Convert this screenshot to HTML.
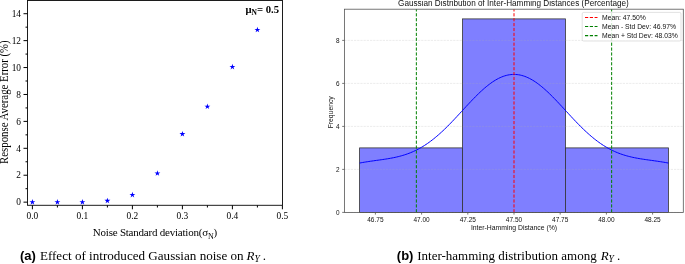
<!DOCTYPE html><html><head><meta charset="utf-8"><style>html,body{margin:0;padding:0;background:#fff;}svg{display:block;filter:blur(0.3px);}</style></head><body>
<svg width="685" height="264" viewBox="0 0 685 264">
<rect x="0" y="0" width="685" height="264" fill="#fff"/>
<polygon points="32.40,199.05 33.10,201.19 35.35,201.19 33.53,202.52 34.22,204.66 32.40,203.33 30.58,204.66 31.27,202.52 29.45,201.19 31.70,201.19" fill="#0000ff"/>
<polygon points="57.40,199.05 58.10,201.19 60.35,201.19 58.53,202.52 59.22,204.66 57.40,203.33 55.58,204.66 56.27,202.52 54.45,201.19 56.70,201.19" fill="#0000ff"/>
<polygon points="82.40,199.05 83.10,201.19 85.35,201.19 83.53,202.52 84.22,204.66 82.40,203.33 80.58,204.66 81.27,202.52 79.45,201.19 81.70,201.19" fill="#0000ff"/>
<polygon points="107.40,197.70 108.10,199.85 110.35,199.85 108.53,201.17 109.22,203.31 107.40,201.99 105.58,203.31 106.27,201.17 104.45,199.85 106.70,199.85" fill="#0000ff"/>
<polygon points="132.40,191.78 133.10,193.92 135.35,193.92 133.53,195.25 134.22,197.39 132.40,196.07 130.58,197.39 131.27,195.25 129.45,193.92 131.70,193.92" fill="#0000ff"/>
<polygon points="157.40,170.25 158.10,172.39 160.35,172.39 158.53,173.71 159.22,175.85 157.40,174.53 155.58,175.85 156.27,173.71 154.45,172.39 156.70,172.39" fill="#0000ff"/>
<polygon points="182.40,130.94 183.10,133.08 185.35,133.08 183.53,134.41 184.22,136.55 182.40,135.23 180.58,136.55 181.27,134.41 179.45,133.08 181.70,133.08" fill="#0000ff"/>
<polygon points="207.40,103.48 208.10,105.63 210.35,105.63 208.53,106.95 209.22,109.09 207.40,107.77 205.58,109.09 206.27,106.95 204.45,105.63 206.70,105.63" fill="#0000ff"/>
<polygon points="232.40,63.78 233.10,65.92 235.35,65.92 233.53,67.24 234.22,69.38 232.40,68.06 230.58,69.38 231.27,67.24 229.45,65.92 231.70,65.92" fill="#0000ff"/>
<polygon points="257.40,26.76 258.10,28.90 260.35,28.90 258.53,30.23 259.22,32.37 257.40,31.05 255.58,32.37 256.27,30.23 254.45,28.90 256.70,28.90" fill="#0000ff"/>
<rect x="27.5" y="0.5" width="255.0" height="204.8" fill="none" stroke="#111" stroke-width="0.95"/>
<line x1="23.5" y1="202.15" x2="27.5" y2="202.15" stroke="#000" stroke-width="1"/>
<text x="21" y="205.35" text-anchor="end" style="font-family:'Liberation Serif',serif;font-size:9.4px">0</text>
<line x1="25.5" y1="188.69" x2="27.5" y2="188.69" stroke="#000" stroke-width="1"/>
<line x1="23.5" y1="175.23" x2="27.5" y2="175.23" stroke="#000" stroke-width="1"/>
<text x="21" y="178.43" text-anchor="end" style="font-family:'Liberation Serif',serif;font-size:9.4px">2</text>
<line x1="25.5" y1="161.77" x2="27.5" y2="161.77" stroke="#000" stroke-width="1"/>
<line x1="23.5" y1="148.31" x2="27.5" y2="148.31" stroke="#000" stroke-width="1"/>
<text x="21" y="151.51" text-anchor="end" style="font-family:'Liberation Serif',serif;font-size:9.4px">4</text>
<line x1="25.5" y1="134.85" x2="27.5" y2="134.85" stroke="#000" stroke-width="1"/>
<line x1="23.5" y1="121.39" x2="27.5" y2="121.39" stroke="#000" stroke-width="1"/>
<text x="21" y="124.59" text-anchor="end" style="font-family:'Liberation Serif',serif;font-size:9.4px">6</text>
<line x1="25.5" y1="107.93" x2="27.5" y2="107.93" stroke="#000" stroke-width="1"/>
<line x1="23.5" y1="94.47" x2="27.5" y2="94.47" stroke="#000" stroke-width="1"/>
<text x="21" y="97.67" text-anchor="end" style="font-family:'Liberation Serif',serif;font-size:9.4px">8</text>
<line x1="25.5" y1="81.01" x2="27.5" y2="81.01" stroke="#000" stroke-width="1"/>
<line x1="23.5" y1="67.55" x2="27.5" y2="67.55" stroke="#000" stroke-width="1"/>
<text x="21" y="70.75" text-anchor="end" style="font-family:'Liberation Serif',serif;font-size:9.4px">10</text>
<line x1="25.5" y1="54.09" x2="27.5" y2="54.09" stroke="#000" stroke-width="1"/>
<line x1="23.5" y1="40.63" x2="27.5" y2="40.63" stroke="#000" stroke-width="1"/>
<text x="21" y="43.83" text-anchor="end" style="font-family:'Liberation Serif',serif;font-size:9.4px">12</text>
<line x1="25.5" y1="27.17" x2="27.5" y2="27.17" stroke="#000" stroke-width="1"/>
<line x1="23.5" y1="13.71" x2="27.5" y2="13.71" stroke="#000" stroke-width="1"/>
<text x="21" y="16.91" text-anchor="end" style="font-family:'Liberation Serif',serif;font-size:9.4px">14</text>
<line x1="32.40" y1="205.3" x2="32.40" y2="209.3" stroke="#000" stroke-width="1"/>
<text x="32.40" y="218.9" text-anchor="middle" style="font-family:'Liberation Serif',serif;font-size:9.4px">0.0</text>
<line x1="57.40" y1="205.3" x2="57.40" y2="207.5" stroke="#000" stroke-width="1"/>
<line x1="82.40" y1="205.3" x2="82.40" y2="209.3" stroke="#000" stroke-width="1"/>
<text x="82.40" y="218.9" text-anchor="middle" style="font-family:'Liberation Serif',serif;font-size:9.4px">0.1</text>
<line x1="107.40" y1="205.3" x2="107.40" y2="207.5" stroke="#000" stroke-width="1"/>
<line x1="132.40" y1="205.3" x2="132.40" y2="209.3" stroke="#000" stroke-width="1"/>
<text x="132.40" y="218.9" text-anchor="middle" style="font-family:'Liberation Serif',serif;font-size:9.4px">0.2</text>
<line x1="157.40" y1="205.3" x2="157.40" y2="207.5" stroke="#000" stroke-width="1"/>
<line x1="182.40" y1="205.3" x2="182.40" y2="209.3" stroke="#000" stroke-width="1"/>
<text x="182.40" y="218.9" text-anchor="middle" style="font-family:'Liberation Serif',serif;font-size:9.4px">0.3</text>
<line x1="207.40" y1="205.3" x2="207.40" y2="207.5" stroke="#000" stroke-width="1"/>
<line x1="232.40" y1="205.3" x2="232.40" y2="209.3" stroke="#000" stroke-width="1"/>
<text x="232.40" y="218.9" text-anchor="middle" style="font-family:'Liberation Serif',serif;font-size:9.4px">0.4</text>
<line x1="257.40" y1="205.3" x2="257.40" y2="207.5" stroke="#000" stroke-width="1"/>
<line x1="282.40" y1="205.3" x2="282.40" y2="209.3" stroke="#000" stroke-width="1"/>
<text x="282.40" y="218.9" text-anchor="middle" style="font-family:'Liberation Serif',serif;font-size:9.4px">0.5</text>
<text x="245.4" y="12.6" style="font-family:'Liberation Serif',serif;font-size:10.7px;font-weight:bold">μ<tspan dy="2.3" font-size="7.5px">N</tspan><tspan dy="-2.3">= 0.5</tspan></text>
<text x="92.8" y="235.8" style="font-family:'Liberation Serif',serif;font-size:11px;letter-spacing:-0.22px">Noise Standard deviation(σ<tspan dy="3.1" font-size="8px">N</tspan><tspan dy="-3.1">)</tspan></text>
<text transform="translate(8.0,102.1) rotate(-90) scale(1,1.08)" text-anchor="middle" style="font-family:'Liberation Serif',serif;font-size:10.8px">Response Average Error (%)</text>
<text x="19.9" y="260.4" style="font-family:'Liberation Sans',sans-serif;font-size:13px;font-weight:bold">(a)</text>
<text x="39.9" y="260.4" style="font-family:'Liberation Serif',serif;font-size:13.1px">Effect of introduced Gaussian noise on</text>
<text x="246.6" y="260.4" style="font-family:'Liberation Serif',serif;font-size:13px;font-style:italic">R</text>
<text x="254.4" y="262.3" style="font-family:'Liberation Serif',serif;font-size:9.5px;font-style:italic">Y</text>
<text x="262.8" y="260.4" style="font-family:'Liberation Serif',serif;font-size:13px">.</text>
<rect x="359.60" y="147.90" width="102.93" height="64.50" fill="#7f7fff" stroke="#333" stroke-width="0.8"/>
<rect x="462.53" y="18.90" width="102.93" height="193.50" fill="#7f7fff" stroke="#333" stroke-width="0.8"/>
<rect x="565.47" y="147.90" width="102.93" height="64.50" fill="#7f7fff" stroke="#333" stroke-width="0.8"/>
<line x1="344.4" y1="212.40" x2="683.3" y2="212.40" stroke="#b0b0b0" stroke-opacity="0.4" stroke-width="0.6" stroke-dasharray="2.2,1"/>
<line x1="344.4" y1="169.40" x2="683.3" y2="169.40" stroke="#b0b0b0" stroke-opacity="0.4" stroke-width="0.6" stroke-dasharray="2.2,1"/>
<line x1="344.4" y1="126.40" x2="683.3" y2="126.40" stroke="#b0b0b0" stroke-opacity="0.4" stroke-width="0.6" stroke-dasharray="2.2,1"/>
<line x1="344.4" y1="83.40" x2="683.3" y2="83.40" stroke="#b0b0b0" stroke-opacity="0.4" stroke-width="0.6" stroke-dasharray="2.2,1"/>
<line x1="344.4" y1="40.40" x2="683.3" y2="40.40" stroke="#b0b0b0" stroke-opacity="0.4" stroke-width="0.6" stroke-dasharray="2.2,1"/>
<polyline points="359.60,163.06 361.14,162.77 362.69,162.49 364.23,162.22 365.78,161.97 367.32,161.72 368.86,161.49 370.41,161.26 371.95,161.04 373.50,160.82 375.04,160.60 376.58,160.39 378.13,160.18 379.67,159.96 381.22,159.74 382.76,159.52 384.30,159.29 385.85,159.05 387.39,158.81 388.94,158.55 390.48,158.28 392.02,157.99 393.57,157.68 395.11,157.36 396.66,157.01 398.20,156.65 399.74,156.25 401.29,155.84 402.83,155.39 404.38,154.92 405.92,154.41 407.46,153.87 409.01,153.30 410.55,152.69 412.10,152.05 413.64,151.37 415.18,150.65 416.73,149.89 418.27,149.09 419.82,148.26 421.36,147.37 422.90,146.45 424.45,145.49 425.99,144.48 427.54,143.43 429.08,142.34 430.62,141.21 432.17,140.04 433.71,138.82 435.26,137.56 436.80,136.27 438.34,134.94 439.89,133.57 441.43,132.16 442.98,130.73 444.52,129.25 446.06,127.75 447.61,126.22 449.15,124.67 450.70,123.08 452.24,121.48 453.78,119.86 455.33,118.22 456.87,116.57 458.42,114.91 459.96,113.23 461.50,111.56 463.05,109.88 464.59,108.20 466.14,106.53 467.68,104.86 469.22,103.21 470.77,101.57 472.31,99.95 473.86,98.35 475.40,96.78 476.94,95.24 478.49,93.72 480.03,92.24 481.58,90.81 483.12,89.41 484.66,88.06 486.21,86.75 487.75,85.50 489.30,84.30 490.84,83.16 492.38,82.08 493.93,81.06 495.47,80.11 497.02,79.22 498.56,78.40 500.10,77.66 501.65,76.99 503.19,76.39 504.74,75.87 506.28,75.43 507.82,75.06 509.37,74.78 510.91,74.58 512.46,74.46 514.00,74.41 515.54,74.46 517.09,74.58 518.63,74.78 520.18,75.06 521.72,75.43 523.26,75.87 524.81,76.39 526.35,76.99 527.90,77.66 529.44,78.40 530.98,79.22 532.53,80.11 534.07,81.06 535.62,82.08 537.16,83.16 538.70,84.30 540.25,85.50 541.79,86.75 543.34,88.06 544.88,89.41 546.42,90.81 547.97,92.24 549.51,93.72 551.06,95.24 552.60,96.78 554.14,98.35 555.69,99.95 557.23,101.57 558.78,103.21 560.32,104.86 561.86,106.53 563.41,108.20 564.95,109.88 566.50,111.56 568.04,113.23 569.58,114.91 571.13,116.57 572.67,118.22 574.22,119.86 575.76,121.48 577.30,123.08 578.85,124.67 580.39,126.22 581.94,127.75 583.48,129.25 585.02,130.73 586.57,132.16 588.11,133.57 589.66,134.94 591.20,136.27 592.74,137.56 594.29,138.82 595.83,140.04 597.38,141.21 598.92,142.34 600.46,143.43 602.01,144.48 603.55,145.49 605.10,146.45 606.64,147.37 608.18,148.26 609.73,149.09 611.27,149.89 612.82,150.65 614.36,151.37 615.90,152.05 617.45,152.69 618.99,153.30 620.54,153.87 622.08,154.41 623.62,154.92 625.17,155.39 626.71,155.84 628.26,156.25 629.80,156.65 631.34,157.01 632.89,157.36 634.43,157.68 635.98,157.99 637.52,158.28 639.06,158.55 640.61,158.81 642.15,159.05 643.70,159.29 645.24,159.52 646.78,159.74 648.33,159.96 649.87,160.18 651.42,160.39 652.96,160.60 654.50,160.82 656.05,161.04 657.59,161.26 659.14,161.49 660.68,161.72 662.22,161.97 663.77,162.22 665.31,162.49 666.86,162.77 668.40,163.06" fill="none" stroke="#0000ff" stroke-width="1"/>
<line x1="514.00" y1="212.4" x2="514.00" y2="9.2" stroke="#ff0000" stroke-width="1" stroke-dasharray="3.2,1.7"/>
<line x1="416.35" y1="212.4" x2="416.35" y2="9.2" stroke="#008000" stroke-width="1" stroke-dasharray="3.2,1.7"/>
<line x1="611.65" y1="212.4" x2="611.65" y2="9.2" stroke="#008000" stroke-width="1" stroke-dasharray="3.2,1.7"/>
<rect x="344.4" y="9.2" width="338.9" height="203.20000000000002" fill="none" stroke="#555" stroke-width="0.8"/>
<line x1="342.2" y1="212.40" x2="344.4" y2="212.40" stroke="#555" stroke-width="0.8"/>
<text x="339.6" y="215.30" text-anchor="end" style="font-family:'Liberation Sans',sans-serif;font-size:6.4px;fill:#111">0</text>
<line x1="342.2" y1="169.40" x2="344.4" y2="169.40" stroke="#555" stroke-width="0.8"/>
<text x="339.6" y="172.30" text-anchor="end" style="font-family:'Liberation Sans',sans-serif;font-size:6.4px;fill:#111">2</text>
<line x1="342.2" y1="126.40" x2="344.4" y2="126.40" stroke="#555" stroke-width="0.8"/>
<text x="339.6" y="129.30" text-anchor="end" style="font-family:'Liberation Sans',sans-serif;font-size:6.4px;fill:#111">4</text>
<line x1="342.2" y1="83.40" x2="344.4" y2="83.40" stroke="#555" stroke-width="0.8"/>
<text x="339.6" y="86.30" text-anchor="end" style="font-family:'Liberation Sans',sans-serif;font-size:6.4px;fill:#111">6</text>
<line x1="342.2" y1="40.40" x2="344.4" y2="40.40" stroke="#555" stroke-width="0.8"/>
<text x="339.6" y="43.30" text-anchor="end" style="font-family:'Liberation Sans',sans-serif;font-size:6.4px;fill:#111">8</text>
<line x1="375.40" y1="212.4" x2="375.40" y2="214.6" stroke="#555" stroke-width="0.8"/>
<text x="375.40" y="221.7" text-anchor="middle" style="font-family:'Liberation Sans',sans-serif;font-size:6.5px;fill:#111">46.75</text>
<line x1="421.60" y1="212.4" x2="421.60" y2="214.6" stroke="#555" stroke-width="0.8"/>
<text x="421.60" y="221.7" text-anchor="middle" style="font-family:'Liberation Sans',sans-serif;font-size:6.5px;fill:#111">47.00</text>
<line x1="467.80" y1="212.4" x2="467.80" y2="214.6" stroke="#555" stroke-width="0.8"/>
<text x="467.80" y="221.7" text-anchor="middle" style="font-family:'Liberation Sans',sans-serif;font-size:6.5px;fill:#111">47.25</text>
<line x1="514.00" y1="212.4" x2="514.00" y2="214.6" stroke="#555" stroke-width="0.8"/>
<text x="514.00" y="221.7" text-anchor="middle" style="font-family:'Liberation Sans',sans-serif;font-size:6.5px;fill:#111">47.50</text>
<line x1="560.20" y1="212.4" x2="560.20" y2="214.6" stroke="#555" stroke-width="0.8"/>
<text x="560.20" y="221.7" text-anchor="middle" style="font-family:'Liberation Sans',sans-serif;font-size:6.5px;fill:#111">47.75</text>
<line x1="606.40" y1="212.4" x2="606.40" y2="214.6" stroke="#555" stroke-width="0.8"/>
<text x="606.40" y="221.7" text-anchor="middle" style="font-family:'Liberation Sans',sans-serif;font-size:6.5px;fill:#111">48.00</text>
<line x1="652.60" y1="212.4" x2="652.60" y2="214.6" stroke="#555" stroke-width="0.8"/>
<text x="652.60" y="221.7" text-anchor="middle" style="font-family:'Liberation Sans',sans-serif;font-size:6.5px;fill:#111">48.25</text>
<text x="514" y="229.5" text-anchor="middle" style="font-family:'Liberation Sans',sans-serif;font-size:6.84px;fill:#111">Inter-Hamming Distance (%)</text>
<text transform="translate(332.7,112.3) rotate(-90)" text-anchor="middle" style="font-family:'Liberation Sans',sans-serif;font-size:6.8px;fill:#111">Frequency</text>
<text x="513.4" y="6.1" text-anchor="middle" style="font-family:'Liberation Sans',sans-serif;font-size:8.18px;fill:#111">Gaussian Distribution of Inter-Hamming Distances (Percentage)</text>
<rect x="582.2" y="12.4" width="98.8" height="28.6" rx="1.5" fill="#fff" fill-opacity="0.8" stroke="#ccc" stroke-width="0.6"/>
<line x1="585" y1="17.45" x2="597.5" y2="17.45" stroke="#ff0000" stroke-width="1.1" stroke-dasharray="3.2,1.6"/>
<text x="602" y="19.85" style="font-family:'Liberation Sans',sans-serif;font-size:6.8px;fill:#111">Mean: 47.50%</text>
<line x1="585" y1="26.55" x2="597.5" y2="26.55" stroke="#008000" stroke-width="1.1" stroke-dasharray="3.2,1.6"/>
<text x="602" y="28.95" style="font-family:'Liberation Sans',sans-serif;font-size:6.8px;fill:#111">Mean - Std Dev: 46.97%</text>
<line x1="585" y1="35.65" x2="597.5" y2="35.65" stroke="#008000" stroke-width="1.1" stroke-dasharray="3.2,1.6"/>
<text x="602" y="38.05" style="font-family:'Liberation Sans',sans-serif;font-size:6.8px;fill:#111">Mean + Std Dev: 48.03%</text>
<text x="396.8" y="260.4" style="font-family:'Liberation Sans',sans-serif;font-size:13px;font-weight:bold">(b)</text>
<text x="417.2" y="260.4" style="font-family:'Liberation Serif',serif;font-size:13px">Inter-hamming distribution among</text>
<text x="600.8" y="260.4" style="font-family:'Liberation Serif',serif;font-size:13px;font-style:italic">R</text>
<text x="608.5" y="262.3" style="font-family:'Liberation Serif',serif;font-size:9.5px;font-style:italic">Y</text>
<text x="616.9" y="260.4" style="font-family:'Liberation Serif',serif;font-size:13px">.</text>
</svg></body></html>
